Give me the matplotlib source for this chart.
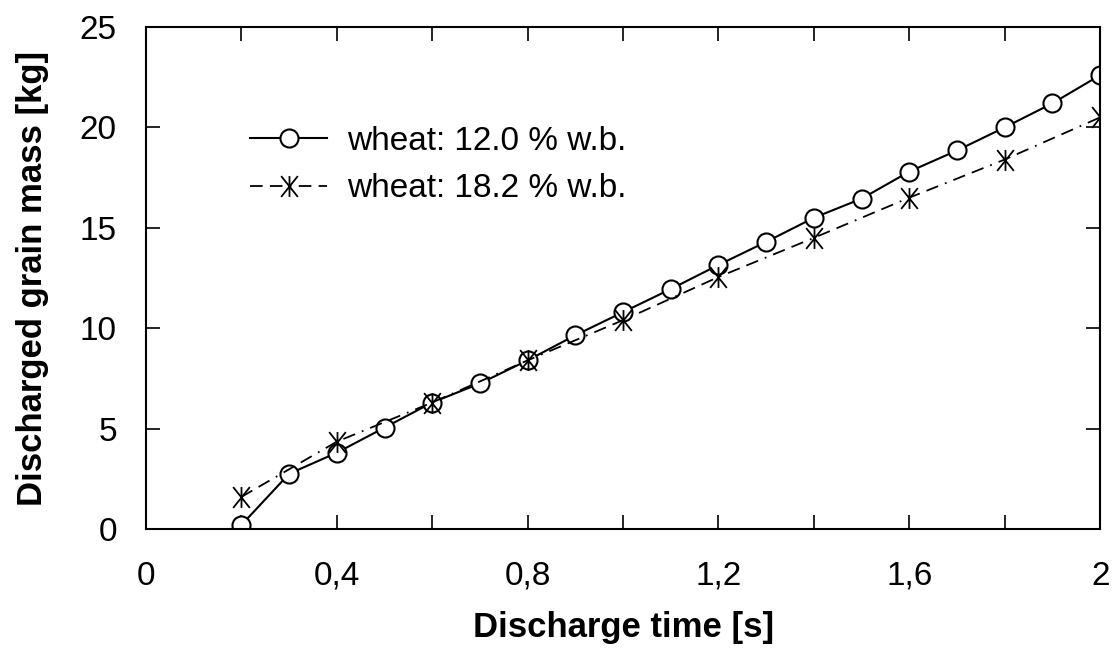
import matplotlib
matplotlib.use("Agg")
import matplotlib.pyplot as plt
from matplotlib.path import Path
from matplotlib.ticker import MultipleLocator, FixedLocator

plt.rcParams['font.family'] = ['Liberation Sans', 'DejaVu Sans']

# Messwerte
t_12 = [0.2, 0.3, 0.4, 0.5, 0.6, 0.7, 0.8, 0.9, 1.0, 1.1,
        1.2, 1.3, 1.4, 1.5, 1.6, 1.7, 1.8, 1.9, 2.0]
m_12 = [0.2, 2.75, 3.8, 5.05, 6.3, 7.25, 8.4, 9.65, 10.8, 11.95,
        13.15, 14.3, 15.5, 16.45, 17.8, 18.85, 20.0, 21.2, 22.6]

t_18 = [0.2, 0.4, 0.6, 0.8, 1.0, 1.2, 1.4, 1.6, 1.8, 2.0]
m_18 = [1.6, 4.35, 6.3, 8.4, 10.4, 12.55, 14.5, 16.5, 18.4, 20.5]

labels = ['wheat: 12.0 % w.b.', 'wheat: 18.2 % w.b.']
x_ticklabels = ['0', '0,4', '0,8', '1,2', '1,6', '2']

# Sternchen-Marker (X mit senkrechtem Strich)
star = Path([(0, -1), (0, 1), (-0.8, -1), (0.8, 1), (-0.8, 1), (0.8, -1)],
            [Path.MOVETO, Path.LINETO, Path.MOVETO, Path.LINETO,
             Path.MOVETO, Path.LINETO])

fig = plt.figure(figsize=(11.16, 6.58), dpi=100)
ax = fig.add_axes([0.1308, 0.196, 0.855, 0.763])

ax.plot(t_12, m_12, color='black', linewidth=1.5, marker='o', markersize=13,
        markerfacecolor='white', markeredgecolor='black', markeredgewidth=1.5,
        label=labels[0])
ax.plot(t_18, m_18, color='black', linewidth=1.3, dashes=(7, 4, 7, 4, 1, 4),
        marker=star, markersize=15, markeredgewidth=1.3,
        markeredgecolor='black', label=labels[1])

ax.set_xlim(0, 2)
ax.set_ylim(0, 25)
ax.xaxis.set_major_locator(FixedLocator([0, 0.4, 0.8, 1.2, 1.6, 2.0]))
ax.xaxis.set_minor_locator(MultipleLocator(0.2))
ax.set_xticklabels(x_ticklabels)
ax.yaxis.set_major_locator(MultipleLocator(5))

ax.tick_params(which='both', direction='in', top=True, right=True,
               labelsize=24, width=1.2, length=10)
ax.tick_params(axis='x', pad=23)
ax.tick_params(axis='y', pad=21)
for s in ax.spines.values():
    s.set_linewidth(1.5)

ax.set_xlabel('Discharge time [s]', fontsize=25, fontweight='bold', labelpad=14)
ax.set_ylabel('Discharged grain mass [kg]', fontsize=25, fontweight='bold', labelpad=22)

ax.legend(loc='center left', bbox_to_anchor=(0.078, 0.725), frameon=False,
          fontsize=24, handlelength=2.3, handletextpad=0.6, labelspacing=0.5)

plt.savefig('out.png', dpi=100)
plt.close()
